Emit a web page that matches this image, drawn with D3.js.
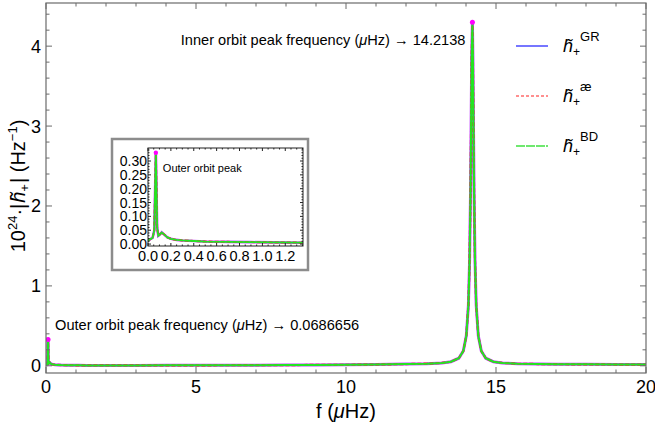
<!DOCTYPE html>
<html>
<head>
<meta charset="utf-8">
<script src="https://cdn.jsdelivr.net/npm/d3@7"></script>
<style>
  body { margin: 0; background: #fff; }
  svg { font-family: "Liberation Sans", Arial, sans-serif; }
</style>
</head>
<body>
<div id="chart"></div>
<script>
var svgWidth = 655;
var svgHeight = 435;

// frequency grid (µHz) and |h+| spectra (x 1e-24 Hz^-1)
var freq = [0, 0.02, 0.04, 0.055, 0.0687, 0.08, 0.09, 0.105, 0.12, 0.14,
  0.17, 0.2, 0.25, 0.3, 0.4, 0.5, 0.7, 0.9, 1.1, 1.35,
  2, 3, 4, 5, 6, 7, 8, 9, 10, 11,
  12, 12.7, 13.2, 13.5, 13.76, 13.91, 14.01, 14.08, 14.12, 14.15,
  14.17, 14.19, 14.2138, 14.23, 14.25, 14.27, 14.3, 14.34, 14.41, 14.51,
  14.66, 14.91, 15.21, 15.71, 16.4, 17, 18, 19, 20];
var hGR = [0.012, 0.018, 0.022, 0.05, 0.33, 0.06, 0.03, 0.035, 0.042, 0.035,
  0.024, 0.019, 0.015, 0.013, 0.011, 0.009, 0.008, 0.007, 0.006, 0.005,
  0.005, 0.005, 0.006, 0.006, 0.007, 0.008, 0.009, 0.011, 0.013, 0.016,
  0.022, 0.027, 0.036, 0.051, 0.095, 0.185, 0.375, 0.76, 1.32, 2.15,
  2.98, 3.87, 4.3, 3.87, 2.98, 2.15, 1.32, 0.76, 0.375, 0.185,
  0.095, 0.051, 0.036, 0.027, 0.022, 0.02, 0.018, 0.016, 0.015];
var hAE = [0.012, 0.018, 0.022, 0.05, 0.33, 0.06, 0.03, 0.035, 0.042, 0.035,
  0.024, 0.019, 0.015, 0.013, 0.011, 0.009, 0.008, 0.007, 0.006, 0.005,
  0.005, 0.005, 0.006, 0.006, 0.007, 0.008, 0.009, 0.011, 0.013, 0.016,
  0.022, 0.027, 0.036, 0.051, 0.095, 0.185, 0.375, 0.76, 1.32, 2.15,
  2.98, 3.87, 4.3, 3.87, 2.98, 2.15, 1.32, 0.76, 0.375, 0.185,
  0.095, 0.051, 0.036, 0.027, 0.022, 0.02, 0.018, 0.016, 0.015];
var hBD = [0.012, 0.018, 0.022, 0.05, 0.33, 0.06, 0.03, 0.035, 0.042, 0.035,
  0.024, 0.019, 0.015, 0.013, 0.011, 0.009, 0.008, 0.007, 0.006, 0.005,
  0.005, 0.005, 0.006, 0.006, 0.007, 0.008, 0.009, 0.011, 0.013, 0.016,
  0.022, 0.027, 0.036, 0.051, 0.095, 0.185, 0.375, 0.76, 1.32, 2.15,
  2.98, 3.87, 4.3, 3.87, 2.98, 2.15, 1.32, 0.76, 0.375, 0.185,
  0.095, 0.051, 0.036, 0.027, 0.022, 0.02, 0.018, 0.016, 0.015];

var peakFreqs = [0.0686656, 14.2138];
var peakAmps = [0.33, 4.3];

var xTicks = [0, 5, 10, 15, 20];
var yTicks = [0, 1, 2, 3, 4];
var insetXTicks = [0, 0.2, 0.4, 0.6, 0.8, 1.0, 1.2];
var insetYTicks = [0, 0.05, 0.1, 0.15, 0.2, 0.25, 0.3];

var seriesNames = ["GR", "æ", "BD"];
var seriesColors = ["#2020ff", "#ff2020", "#22e622"];

var series = [hGR, hAE, hBD].map(function(vals) {
  return vals.map(function(v, i) { return {f: freq[i], h: v}; });
});

var svg = d3.select("#chart")
  .append("svg")
  .attr("width", svgWidth)
  .attr("height", svgHeight);

var frame = {left: 46, right: 646, top: 3, bottom: 373};
var x = d3.scaleLinear().domain([0, 20]).range([frame.left, frame.right]);
var y = d3.scaleLinear().domain([-0.09, 4.54]).range([frame.bottom, frame.top]);

var defs = svg.append("defs");
defs.append("clipPath").attr("id", "mainClip")
  .append("rect")
  .attr("x", frame.left).attr("y", frame.top)
  .attr("width", frame.right - frame.left).attr("height", frame.bottom - frame.top);

// curves: GR solid, ae dashed, BD on top
function drawCurves(g, xs, ys, widths) {
  var line = d3.line().x(d => xs(d.f)).y(d => ys(d.h));
  g.append("path").datum(series[0])
    .attr("d", line).attr("fill", "none")
    .attr("stroke", "#c040ff").attr("stroke-width", widths[0]);
  g.append("path").datum(series[1])
    .attr("d", line).attr("fill", "none")
    .attr("stroke", seriesColors[1]).attr("stroke-width", widths[1])
    .attr("stroke-dasharray", "4,2");
  g.append("path").datum(series[2])
    .attr("d", line).attr("fill", "none")
    .attr("stroke", seriesColors[2]).attr("stroke-width", widths[2]);
}

var plot = svg.append("g").attr("clip-path", "url(#mainClip)");
drawCurves(plot, x, y, [3, 2.2, 2]);

plot.selectAll("circle.peak")
  .data(peakFreqs)
  .enter()
  .append("circle")
  .attr("class", "peak")
  .attr("cx", d => x(d))
  .attr("cy", (d, i) => y(peakAmps[i]))
  .attr("r", 2.5)
  .attr("fill", "#ff00ff");

// frame with ticks on all four sides (ticks point inward)
var frameColor = "#6b6b6b";
var axisG = svg.append("g");
axisG.append("rect")
  .attr("x", frame.left).attr("y", frame.top)
  .attr("width", frame.right - frame.left).attr("height", frame.bottom - frame.top)
  .attr("fill", "none").attr("stroke", frameColor).attr("stroke-width", 1.2);

var xMinor = d3.range(0, 20.01, 1);
var yMinor = d3.range(0, 4.55, 0.2);

xMinor.forEach(function(t) {
  var len = (t % 5 === 0) ? 6 : 3.5;
  axisG.append("line").attr("x1", x(t)).attr("x2", x(t))
    .attr("y1", frame.bottom).attr("y2", frame.bottom - len)
    .attr("stroke", frameColor);
  axisG.append("line").attr("x1", x(t)).attr("x2", x(t))
    .attr("y1", frame.top).attr("y2", frame.top + len)
    .attr("stroke", frameColor);
});
yMinor.forEach(function(t) {
  var major = Math.abs(t - Math.round(t)) < 1e-6;
  var len = major ? 6 : 3.5;
  axisG.append("line").attr("x1", frame.left).attr("x2", frame.left + len)
    .attr("y1", y(t)).attr("y2", y(t)).attr("stroke", frameColor);
  axisG.append("line").attr("x1", frame.right).attr("x2", frame.right - len)
    .attr("y1", y(t)).attr("y2", y(t)).attr("stroke", frameColor);
});

svg.selectAll("text.xtick")
  .data(xTicks)
  .enter()
  .append("text")
  .attr("class", "xtick")
  .attr("x", d => x(d))
  .attr("y", 393)
  .attr("text-anchor", "middle")
  .attr("font-size", 18)
  .text(d => d);

svg.selectAll("text.ytick")
  .data(yTicks)
  .enter()
  .append("text")
  .attr("class", "ytick")
  .attr("x", 41)
  .attr("y", d => y(d) + 6.5)
  .attr("text-anchor", "end")
  .attr("font-size", 18)
  .text(d => d);

// axis titles
var xt = svg.append("text")
  .attr("x", (frame.left + frame.right) / 2)
  .attr("y", 418)
  .attr("text-anchor", "middle")
  .attr("font-size", 20);
xt.append("tspan").text("f (");
xt.append("tspan").attr("font-style", "italic").text("μ");
xt.append("tspan").text("Hz)");

var yt = svg.append("text")
  .attr("transform", "translate(25," + ((frame.top + frame.bottom) / 2 - 2) + ") rotate(-90)")
  .attr("text-anchor", "middle")
  .attr("font-size", 20);
yt.append("tspan").text("10");
yt.append("tspan").attr("font-size", 13).attr("dy", -8).text("24");
yt.append("tspan").attr("dy", 8).text("·|");
yt.append("tspan").attr("font-style", "italic").attr("dx", 1).text("h\u0303");
yt.append("tspan").attr("font-size", 13).attr("dy", 4).text("+");
yt.append("tspan").attr("dy", -4).attr("dx", 1).text("| (Hz");
yt.append("tspan").attr("font-size", 13).attr("dy", -8).text("−1");
yt.append("tspan").attr("dy", 8).text(")");

// peak annotations
var innerNote = svg.append("text")
  .attr("x", x(peakFreqs[1]) - 7)
  .attr("y", y(peakAmps[1]) + 23)
  .attr("text-anchor", "end")
  .attr("font-size", 14.6);
innerNote.append("tspan").text("Inner orbit peak frequency (");
innerNote.append("tspan").attr("font-style", "italic").text("μ");
innerNote.append("tspan").text("Hz) → 14.2138");

var outerNote = svg.append("text")
  .attr("x", x(peakFreqs[0]) + 7)
  .attr("y", y(peakAmps[0]) - 9)
  .attr("font-size", 14.6);
outerNote.append("tspan").text("Outer orbit peak frequency (");
outerNote.append("tspan").attr("font-style", "italic").text("μ");
outerNote.append("tspan").text("Hz) → 0.0686656");

// legend
var legend = svg.append("g");
seriesNames.forEach(function(name, i) {
  var ly = 46 + i * 50;
  var ln = legend.append("line")
    .attr("x1", 516).attr("x2", 548)
    .attr("y1", ly).attr("y2", ly)
    .attr("stroke", i === 2 ? "#6fe86f" : (i === 0 ? "#1a1aff" : seriesColors[i]))
    .attr("stroke-width", i === 2 ? 2 : 1.2);
  if (i === 1) ln.attr("stroke-dasharray", "3,2");
  if (i === 2) ln.attr("stroke-dasharray", "9,1");
  var lt = legend.append("text")
    .attr("x", 563).attr("y", ly + 6)
    .attr("font-size", 18);
  lt.append("tspan").attr("font-style", "italic").text("h\u0303");
  lt.append("tspan").attr("font-size", 12).attr("dy", 4).text("+");
  lt.append("tspan").attr("font-size", 13).attr("dy", -15).text(name);
});

// inset
var box = {left: 112, right: 308, top: 139, bottom: 270};
svg.append("rect")
  .attr("x", box.left).attr("y", box.top)
  .attr("width", box.right - box.left).attr("height", box.bottom - box.top)
  .attr("fill", "#fff").attr("stroke", "#8c8c8c").attr("stroke-width", 2.5);

var inset = {left: 148, right: 303, top: 148, bottom: 246};
var ix = d3.scaleLinear().domain([0, 1.355]).range([inset.left, inset.right]);
var iy = d3.scaleLinear().domain([-0.007, 0.347]).range([inset.bottom, inset.top]);

defs.append("clipPath").attr("id", "insetClip")
  .append("rect")
  .attr("x", inset.left).attr("y", inset.top)
  .attr("width", inset.right - inset.left).attr("height", inset.bottom - inset.top);

var iplot = svg.append("g").attr("clip-path", "url(#insetClip)");
drawCurves(iplot, ix, iy, [2.6, 2, 1.8]);
iplot.append("circle")
  .attr("cx", ix(peakFreqs[0])).attr("cy", iy(peakAmps[0]))
  .attr("r", 2.2).attr("fill", "#ff00ff");

var ig = svg.append("g");
ig.append("rect")
  .attr("x", inset.left).attr("y", inset.top)
  .attr("width", inset.right - inset.left).attr("height", inset.bottom - inset.top)
  .attr("fill", "none").attr("stroke", "#222").attr("stroke-width", 1);

d3.range(0, 1.36, 0.05).forEach(function(t) {
  var major = Math.abs(t / 0.2 - Math.round(t / 0.2)) < 1e-6;
  var len = major ? 3 : 1.5;
  ig.append("line").attr("x1", ix(t)).attr("x2", ix(t))
    .attr("y1", inset.bottom).attr("y2", inset.bottom - len).attr("stroke", "#222");
  ig.append("line").attr("x1", ix(t)).attr("x2", ix(t))
    .attr("y1", inset.top).attr("y2", inset.top + len).attr("stroke", "#222");
});
d3.range(0, 0.346, 0.01).forEach(function(t) {
  var major = Math.abs(t / 0.05 - Math.round(t / 0.05)) < 1e-6;
  var len = major ? 3 : 1.5;
  ig.append("line").attr("x1", inset.left).attr("x2", inset.left + len)
    .attr("y1", iy(t)).attr("y2", iy(t)).attr("stroke", "#222");
  ig.append("line").attr("x1", inset.right).attr("x2", inset.right - len)
    .attr("y1", iy(t)).attr("y2", iy(t)).attr("stroke", "#222");
});

ig.selectAll("text.ixt")
  .data(insetXTicks)
  .enter()
  .append("text")
  .attr("x", d => ix(d))
  .attr("y", inset.bottom + 15)
  .attr("text-anchor", "middle")
  .attr("font-size", 14.5)
  .text(d => d3.format(".1f")(d));

ig.selectAll("text.iyt")
  .data(insetYTicks)
  .enter()
  .append("text")
  .attr("x", inset.left - 1)
  .attr("y", d => iy(d) + 5)
  .attr("text-anchor", "end")
  .attr("font-size", 14)
  .text(d => d3.format(".2f")(d));

ig.append("text")
  .attr("x", ix(peakFreqs[0]) + 7)
  .attr("y", 172)
  .attr("font-size", 11)
  .text("Outer orbit peak");
</script>
</body>
</html>
